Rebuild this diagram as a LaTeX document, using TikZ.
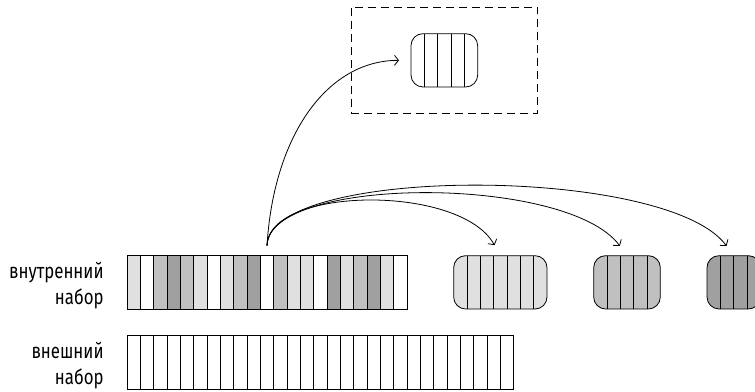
\documentclass[tikz,border=0pt]{standalone}
\usepackage{fontspec}
\setmainfont{Fira Sans}[FakeStretch=0.8]
\usetikzlibrary{arrows.meta,positioning}
\definecolor{gL}{HTML}{E0E0E0}
\definecolor{gM}{HTML}{C0C0C0}
\definecolor{gD}{HTML}{A0A0A0}

\begin{document}
\begin{tikzpicture}[x=13.333bp,y=13.333bp,line width=0.8pt,
  >={Straight Barb[length=4bp,width=10bp]},
  cell/.style={draw,minimum width=13.333bp,minimum height=53.333bp,inner sep=0pt,outer sep=0pt},
  pill/.style={draw,rounded corners=12bp,minimum height=53.333bp,inner sep=0pt,outer sep=0pt},
  lbl/.style={align=right,inner sep=0pt,font=\fontsize{21bp}{26bp}\selectfont}]
  \useasboundingbox (-9.525,-6.15) rectangle (47.1,23.175);
  % inner set
  \foreach \c [count=\i] in {gL,white,gM,gD,gM,gL,white,gL,gM,gD,white,gM,gL,gL,white,gD,gL,gM,gD,gL,white}
    \node[cell,fill=\c] (in\i) at (\i-0.5,2) {};
  % outer set
  \foreach \i in {1,...,29}
    \node[cell] (out\i) at (\i-0.5,-4) {};
  \node[lbl,left=23bp of in1,yshift=-3bp] (inlbl) {внутренний\\набор};
  \node[lbl,left=23bp of out1,yshift=-3bp] (outlbl) {внешний\\набор};
  % groups
  \node[pill,fill=gL,minimum width=93.333bp] (grpL) at (28,2) {};
  \node[pill,fill=gM,minimum width=66.667bp] (grpM) at (37.5,2) {};
  \node[pill,fill=gD,minimum width=53.333bp] (grpD) at (45.5,2) {};
  \node[draw,dash pattern=on 8bp off 5bp,minimum width=186.67bp,minimum height=106.67bp,inner sep=0pt] (box) at (23.8,18.65) {};
  \node[pill,fill=white,minimum width=66.667bp] (grpW) at (23.8,18.65) {};
  \foreach \g/\n in {grpL/6,grpM/4,grpD/3,grpW/4}
    \foreach \k in {1,...,\n}
      \draw (\g.south west) ++(\k,0) -- ++(0,4);
  % arrows
  \coordinate[above=10bp of in11] (src);
  \draw[->,shorten >=12bp] (src) .. controls (11,13) and (15,18.65) .. (grpW.west);
  \draw[->,shorten >=12bp] (src) .. controls (10.6,9.2) and (25,9.4) .. (grpL.north);
  \draw[->,shorten >=12bp] (src) .. controls (10.6,10) and (33,10.1) .. (grpM.north);
  \draw[->,shorten >=12bp] (src) .. controls (10.6,10.8) and (40.5,10.8) .. (grpD.north);
\end{tikzpicture}
\end{document}
